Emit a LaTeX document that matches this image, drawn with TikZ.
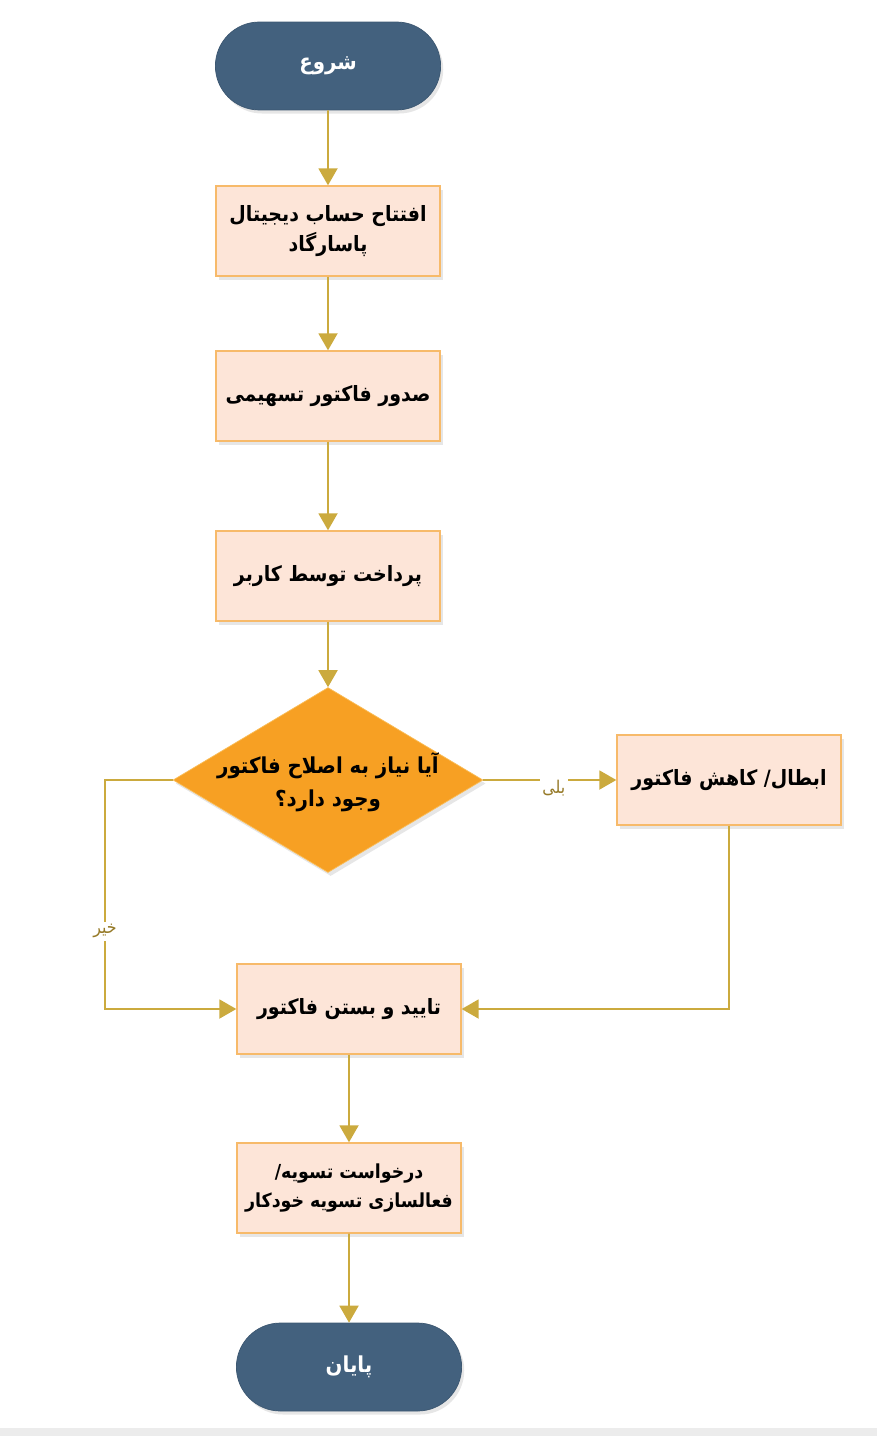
\documentclass[tikz,border=0pt]{standalone}
\usepackage{fontspec}
\usepackage{tikz}
\usetikzlibrary{arrows.meta,positioning,calc,shapes.geometric,shapes.misc,shadows}
\TeXXeTstate=1
\newfontfamily\fafont[Script=Arabic]{DejaVu Sans Condensed}
\newcommand{\fa}[1]{\beginR #1\endR}
\definecolor{termBlue}{RGB}{67,97,126}
\definecolor{boxFill}{RGB}{253,229,216}
\definecolor{boxLine}{RGB}{247,186,106}
\definecolor{decFill}{RGB}{247,160,35}
\definecolor{decLine}{RGB}{250,190,90}
\definecolor{linkGold}{RGB}{203,170,62}
\definecolor{labOlive}{RGB}{150,122,40}
\definecolor{bgGray}{RGB}{236,236,236}

\begin{document}
\begin{tikzpicture}[x=0.02cm, y=-0.02cm,
  term/.style={rounded rectangle, draw=termBlue!90!black, thin, fill=termBlue, text=white, minimum width=4.74cm, minimum height=1.76cm, font=\fafont\bfseries\fontsize{12.5}{16}\selectfont, drop shadow={shadow xshift=1.5pt, shadow yshift=-2pt, opacity=0.2}},
  proc/.style={draw=boxLine, thick, fill=boxFill, minimum width=4.48cm, minimum height=1.8cm, inner xsep=2pt, align=center, font=\fafont\bfseries\fontsize{12}{17}\selectfont, drop shadow={shadow xshift=1.5pt, shadow yshift=-2pt, opacity=0.2}},
  dec/.style={diamond, draw=decLine, thin, fill=decFill, minimum width=6.2cm, minimum height=3.7cm, inner sep=0pt, drop shadow={shadow xshift=1.5pt, shadow yshift=-2pt, opacity=0.2}},
  dectext/.style={align=center, font=\fafont\bfseries\fontsize{12.5}{19}\selectfont},
  arr/.style={-{Triangle[length=3.4mm, width=3.8mm]}, line width=1.1pt, linkGold},
  lab/.style={font=\fafont\fontsize{10}{12}\selectfont, text=labOlive, fill=white, inner sep=1.5pt}
]
  \useasboundingbox (0,0) rectangle (877,1436);
  \fill[bgGray] (0,1428) rectangle (877,1436);

  \node[term] (start) at (328,66) {\fa{شروع}};
  \node[proc] (acct) at (328,231) {\fa{افتتاح حساب دیجیتال}\\ \fa{پاسارگاد}};
  \node[proc] (issue) at (328,396) {\fa{صدور فاکتور تسهیمی}};
  \node[proc] (pay) at (328,576) {\fa{پرداخت توسط کاربر}};
  \node[dec] (need) at (328,780) {};
  \node[dectext] (needtext) at (328,782) {\fa{آیا نیاز به اصلاح فاکتور}\\ \fa{وجود دارد؟}};
  \node[proc] (cancel) at (729,780) {\fa{ابطال/ کاهش فاکتور}};
  \node[proc] (confirm) at (349,1009) {\fa{تایید و بستن فاکتور}};
  \node[proc, font=\fafont\bfseries\fontsize{11}{17}\selectfont] (settle) at (349,1188) {\fa{درخواست تسویه/}\\ \fa{فعالسازی تسویه خودکار}};
  \node[term] (finish) at (349,1367) {\fa{پایان}};
  \coordinate (nobend) at (105,780);

  \draw[arr] (start) -- (acct);
  \draw[arr] (acct) -- (issue);
  \draw[arr] (issue) -- (pay);
  \draw[arr] (pay) -- (need);
  \draw[arr] (need.east) -- node[lab, pos=0.53, yshift=-0.16cm] {\fa{بلی}} (cancel.west);
  \draw[arr] (need.west) -- (nobend) |- node[lab, pos=0.33] {\fa{خیر}} (confirm.west);
  \draw[arr] (cancel.south) |- (confirm.east);
  \draw[arr] (confirm) -- (settle);
  \draw[arr] (settle) -- (finish);
\end{tikzpicture}
\end{document}
